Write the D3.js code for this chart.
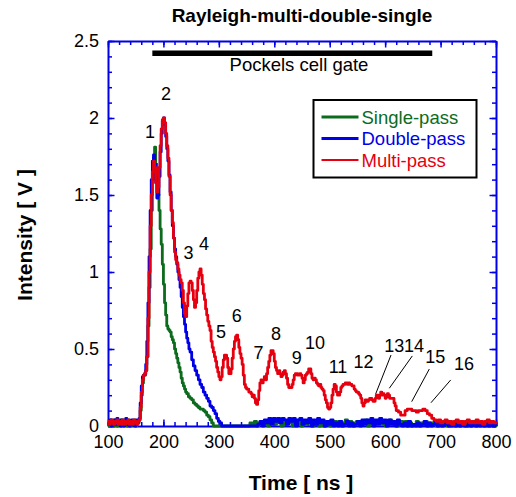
<!DOCTYPE html>
<html>
<head>
<meta charset="utf-8">
<script src="https://cdn.jsdelivr.net/npm/d3@7"></script>
<style>
  body { margin: 0; background: #fff; }
  text { font-family: Arial, "Liberation Sans", sans-serif; }
</style>
</head>
<body>
<div id="chart"></div>
<script>
// ---- data ----
const timeTicks = [100, 200, 300, 400, 500, 600, 700, 800];
const intensityTicks = [0, 0.5, 1, 1.5, 2, 2.5];

const seriesNames = ["Single-pass", "Double-pass", "Multi-pass"];

// [time ns, intensity V]
const singlePass = [
  [100,.02],[102,0],[104,.04],[106,.01],[108,.03],[110,0],[112,.04],[114,.02],[116,0],[118,.03],
  [120,.01],[122,.04],[124,0],[126,.02],[128,.04],[130,.01],[132,.03],[134,0],[136,.04],[138,.02],
  [140,0],[142,.03],[144,.01],[146,.04],[148,.02],[150,0],[152,.03],[154,.02],[156,.04],
  [158,.1],[160,.2],[162,.28],[164,.33],[166,.33],[168,.36],[170,.45],[172,.65],[174,.9],[176,1.15],
  [178,1.4],[180,1.6],[182,1.74],[184,1.81],[186,1.7],[188,1.6],[190,1.5],[192,1.4],[194,1.28],
  [196,1.18],[198,1.05],[200,.92],[202,.8],[204,.72],[206,.65],[208,.63],[210,.62],[212,.61],
  [214,.58],[216,.56],[218,.54],[220,.5],[222,.47],[224,.44],[226,.41],[228,.38],[230,.35],
  [232,.31],[234,.28],[236,.26],[238,.24],[240,.22],[242,.21],[245,.19],[248,.18],[251,.17],
  [254,.15],[257,.14],[260,.13],[263,.12],[266,.11],[269,.11],[272,.1],[275,.09],[278,.07],
  [281,.06],[284,.04],[287,.02],[290,0],[354,0],
  [356,.02],[360,.01],[364,.03],[368,0],[372,.02],[376,.03],[380,.01],[384,.03],[388,0],[392,.02],
  [396,.03],[400,.01],[404,.03],[408,.02],[412,0],[416,.03],[420,.01],[424,.03],[428,.02],[432,0],
  [436,.03],[440,.01],[444,.04],[448,0],[452,.03],[456,.01],[460,.03],[464,.02],[468,0],[472,.03],
  [476,.01],[480,0],[484,.02],[488,0],[492,.01],[496,.03],[500,0],[504,.02],[508,.03],[512,.01],
  [516,.03],[520,0],[524,.02],[528,.04],[532,.01],[536,.03],[540,0],[544,.02],[548,.03],[552,.01],
  [556,.03],[560,.02],[564,.04],[568,0],[572,.03],[576,.01],[580,.03],[584,.02],[588,.04],[592,.01],
  [596,.03],[600,0],[604,.02],[608,.04],[612,.01],[616,.03],[620,0],[624,.02],[628,.03],[632,.01],
  [636,.03],[640,0],[644,.02],[648,0],[652,.01],[656,.03],[660,0],[664,.02],[668,.01],[672,.03],
  [676,0],[680,.02],[684,.01],[688,.03],[692,0],[696,.02],[700,0],[704,.01],[708,.03],[712,0],
  [716,.02],[720,.01],[724,0],[728,.02],[732,0],[736,.03],[740,.01],[744,0],[748,.02],[752,0],
  [756,.01],[760,.03],[764,0],[768,.02],[772,.01],[776,0],[780,.02],[784,0],[788,.03],[792,.01],
  [796,0],[800,.02]
];

const doublePass = [
  [100,.03],[102,.01],[104,.04],[106,0],[108,.02],[110,.04],[112,.01],[114,.03],[116,.05],[118,.01],
  [120,.03],[122,0],[124,.04],[126,.02],[128,0],[130,.03],[132,.05],[134,.01],[136,.03],[138,0],
  [140,.02],[142,.04],[144,.01],[146,.03],[148,0],[150,.04],[152,.02],[154,.03],[156,.05],
  [158,.15],[160,.26],[162,.32],[164,.33],[166,.34],[168,.4],[170,.55],[172,.8],[174,1.1],[176,1.4],
  [178,1.6],[180,1.72],[182,1.76],[184,1.7],[186,1.58],[188,1.48],[190,1.5],[192,1.62],[194,1.78],
  [196,1.9],[198,1.98],[200,2.0],[202,1.96],[204,1.88],[206,1.8],[208,1.72],[210,1.63],[212,1.52],
  [214,1.4],[216,1.3],[218,1.22],[220,1.15],[222,1.1],[224,1.05],[226,1.0],[228,.95],[230,.9],
  [232,.84],[234,.77],[236,.71],[238,.66],[240,.61],[242,.57],[244,.54],[246,.5],[248,.48],
  [251,.43],[254,.39],[257,.36],[260,.33],[263,.3],[266,.27],[269,.25],[272,.22],[275,.2],
  [278,.18],[281,.16],[284,.13],[287,.12],[290,.1],[293,.08],[296,.05],[299,.03],[302,.02],[305,0],
  [366,0],[370,.01],[374,.03],[378,0],[382,.04],[386,.02],[390,.05],[394,.01],[398,.05],[402,.03],
  [406,.05],[410,.02],[414,.05],[418,.04],[422,.01],[426,.05],[430,.03],[434,.05],[438,0],[442,.04],
  [446,.05],[450,.01],[454,.04],[458,.02],[462,.05],[466,0],[470,.04],[474,.01],[478,.05],[482,.02],
  [486,.04],[490,0],[494,.03],[498,.01],[502,.04],[506,0],[510,.02],[514,0],[518,.03],[522,0],
  [526,.01],[530,.03],[534,0],[538,.02],[542,0],[546,.01],[550,.03],[554,0],[558,.04],[562,.01],
  [566,.04],[570,.02],[574,.05],[578,0],[582,.04],[586,.01],[590,.05],[594,.02],[598,.04],[602,0],
  [606,.04],[610,.01],[614,.03],[618,0],[622,.04],[626,.01],[630,0],[634,.02],[638,0],[642,.03],
  [646,0],[650,.01],[654,0],[658,.02],[662,0],[666,.01],[670,.03],[674,0],[678,.02],[682,0],
  [686,.01],[690,.03],[694,0],[698,.02],[702,0],[706,.01],[710,.03],[714,0],[718,0],[722,.02],
  [726,0],[730,.01],[734,0],[738,.02],[742,0],[746,0],[750,.02],[754,0],[758,.01],[762,0],
  [766,.02],[770,0],[774,.01],[778,0],[782,.02],[786,0],[790,.01],[794,0],[798,.02],[800,0]
];

const multiPass = [
  [100,.03],[102,.01],[104,.02],[106,.04],[108,.02],[110,.01],[112,.03],[114,.02],[116,.04],[118,.01],
  [120,.02],[122,.03],[124,.01],[126,.04],[128,.02],[130,.01],[132,.03],[134,.02],[136,.04],[138,.01],
  [140,.03],[142,.02],[144,.01],[146,.04],[148,.02],[150,.03],[152,.01],[154,.03],[156,.04],
  [158,.12],[160,.22],[162,.3],[164,.33],[166,.34],[168,.36],[170,.45],[172,.7],[174,1.0],[176,1.3],
  [178,1.5],[180,1.65],[182,1.72],[184,1.68],[186,1.58],[188,1.52],[190,1.55],[192,1.68],[194,1.82],
  [196,1.93],[198,1.99],[200,2.0],[202,1.97],[204,1.9],[206,1.82],[208,1.74],[210,1.62],[212,1.5],
  [214,1.4],[216,1.32],[218,1.22],[220,1.13],[222,1.08],[224,1.06],[226,1.02],[228,.98],[230,.95],
  [232,.93],[234,.88],[236,.8],[238,.73],[240,.71],[242,.78],[244,.86],[246,.93],[248,.94],[250,.93],
  [252,.88],[254,.82],[256,.77],[258,.8],[260,.88],[262,.96],[264,1.0],[266,1.02],[268,.98],[270,.92],
  [272,.86],[274,.82],[276,.76],[278,.72],[280,.68],[282,.65],[284,.62],[286,.55],[288,.51],[290,.48],
  [292,.45],[294,.42],[296,.38],[298,.35],[300,.32],[302,.3],[304,.32],[306,.38],[308,.43],[310,.46],
  [312,.46],[314,.44],[316,.38],[318,.34],[320,.34],[322,.37],[324,.44],[326,.5],[328,.55],[330,.58],
  [332,.59],[334,.56],[336,.51],[338,.47],[340,.44],[342,.4],[344,.33],[346,.27],[348,.25],[350,.24],
  [352,.24],[354,.22],[356,.22],[358,.21],[360,.19],[362,.2],[364,.18],[366,.15],[368,.14],[370,.17],
  [372,.23],[374,.28],[376,.3],[378,.28],[380,.3],[382,.32],[384,.3],[386,.34],[388,.38],[390,.42],
  [392,.46],[394,.49],[396,.49],[398,.47],[400,.42],[402,.38],[404,.36],[406,.34],[408,.36],[410,.34],
  [412,.32],[414,.33],[416,.35],[418,.36],[420,.34],[422,.31],[424,.27],[426,.25],[428,.25],[430,.25],
  [432,.27],[434,.3],[436,.33],[438,.34],[440,.34],[442,.33],[444,.33],[446,.34],[448,.33],[450,.31],
  [452,.28],[454,.3],[456,.33],[458,.34],[460,.35],[462,.37],[464,.37],[466,.34],[468,.31],[470,.3],
  [472,.31],[474,.3],[476,.28],[478,.27],[480,.26],[482,.27],[484,.25],[486,.24],[488,.23],[490,.2],
  [492,.17],[494,.15],[496,.12],[498,.11],[500,.12],[502,.15],[504,.2],[506,.24],[508,.27],[510,.26],
  [512,.22],[514,.2],[516,.2],[518,.22],[520,.25],[522,.26],[524,.27],[526,.27],[528,.28],[530,.28],
  [532,.27],[534,.28],[536,.27],[538,.27],[540,.26],[542,.26],[544,.24],[546,.23],[548,.22],[550,.22],
  [552,.21],[554,.2],[556,.18],[558,.15],[560,.13],[562,.15],[564,.17],[566,.17],[568,.16],[570,.17],
  [572,.18],[574,.18],[576,.17],[578,.16],[580,.16],[582,.18],[584,.2],[586,.2],[588,.18],[590,.2],
  [592,.22],[594,.2],[596,.21],[598,.2],[600,.18],[602,.19],[604,.21],[606,.2],[608,.18],[612,.18],
  [616,.15],[618,.13],[620,.1],[624,.09],[628,.07],[632,.07],[636,.1],[640,.11],[644,.11],[648,.1],
  [652,.1],[656,.09],[660,.1],[664,.1],[668,.11],[670,.11],[672,.1],[676,.08],[680,.07],[684,.05],
  [688,.04],[692,.03],[696,.04],[700,.02],[704,.03],[708,.04],[712,.02],[716,.03],[720,.01],[724,.03],
  [728,.04],[732,.02],[736,.03],[740,.01],[744,.03],[748,.04],[752,.02],[756,.03],[760,.02],[764,.04],
  [768,.02],[772,.03],[776,.01],[780,.03],[784,.04],[788,.02],[792,.03],[796,.02],[800,.03]
];

// peak numbers: label, time, intensity (label anchor)
const peakLabels = [
  ["1",176,1.87],["2",204.6,2.12],["3",245.2,1.084],["4",273.2,1.143],["5",303.9,.573],
  ["6",332.2,.677],["7",371.5,.433],["8",403.1,.558],["9",440.4,.403],["10",473.4,.5],
  ["11",514.9,.344],["12",560.9,.377],["13",616.3,.482],["14",652,.482],["15",690.5,.409],
  ["16",742.3,.364]
];
// leader lines: [t1, v1, t2, v2]
const leaderLines = [
  [610.6,.461,582.9,.208],[649,.455,607.5,.245],[679.7,.37,647.9,.158],[718.3,.299,682.7,.151]
];

const gateStart = 180, gateEnd = 685, gateLevel = 2.42;

// ---- layout ----
const width = 516, height = 497;
const colors = ["#0c6b1c", "#0000e6", "#e6000f"];
const axisBlue = "#0000e6";

const svg = d3.select("#chart").append("svg")
  .attr("width", width)
  .attr("height", height);

const x = d3.scaleLinear().domain([100, 800]).range([108, 496]);
const y = d3.scaleLinear().domain([0, 2.5]).range([426, 41]);

const minorX = d3.range(100, 801, 20);
const minorY = d3.range(0, 2.51, 0.1);

function drawAxis(axisFn, scale, translate, major, minor, labels) {
  const g = svg.append("g").attr("transform", translate);
  g.call(axisFn(scale).tickValues(minor).tickSizeInner(-4).tickSizeOuter(0).tickFormat(""));
  g.select(".domain").remove();
  g.selectAll(".tick line").attr("stroke", axisBlue).attr("stroke-width", 1.5);
  const gm = svg.append("g").attr("transform", translate);
  gm.call(axisFn(scale).tickValues(major).tickSizeInner(-6.5).tickSizeOuter(0)
    .tickPadding(labels ? 9 : 0)
    .tickFormat(labels ? d3.format("~g") : ""));
  gm.select(".domain").attr("stroke", axisBlue).attr("stroke-width", 2);
  gm.selectAll(".tick line").attr("stroke", axisBlue).attr("stroke-width", 1.5);
  gm.selectAll(".tick text").attr("fill", "#000").style("font-size", "18px")
    .style("font-family", "Arial, 'Liberation Sans', sans-serif");
  return gm;
}

drawAxis(d3.axisBottom, x, "translate(0,426)", timeTicks, minorX, true);
drawAxis(d3.axisTop, x, "translate(0,41)", timeTicks, minorX, false);
drawAxis(d3.axisLeft, y, "translate(108,0)", intensityTicks, minorY, true);
drawAxis(d3.axisRight, y, "translate(496,0)", intensityTicks, minorY, false);

// ---- series ----
const line = d3.line()
  .x(d => x(d[0]))
  .y(d => y(d[1]))
  .curve(d3.curveStepAfter);

[singlePass, doublePass, multiPass].forEach((s, i) => {
  svg.append("path")
    .datum(s)
    .attr("fill", "none")
    .attr("stroke", colors[i])
    .attr("stroke-width", 2.8)
    .attr("stroke-linejoin", "round")
    .attr("d", line);
});

// ---- Pockels cell gate ----
svg.append("line")
  .attr("x1", x(gateStart)).attr("x2", x(gateEnd))
  .attr("y1", y(gateLevel)).attr("y2", y(gateLevel))
  .attr("stroke", "#000").attr("stroke-width", 5.5);

svg.append("text")
  .attr("x", x(444.6)).attr("y", y(2.305))
  .attr("text-anchor", "middle")
  .style("font-size", "18.5px")
  .text("Pockels cell gate");

// ---- peak labels ----
svg.append("g").selectAll("text")
  .data(peakLabels)
  .join("text")
    .attr("x", d => x(d[1]))
    .attr("y", d => y(d[2]))
    .attr("text-anchor", "middle")
    .style("font-size", "18px")
    .text(d => d[0]);

svg.append("g").selectAll("line")
  .data(leaderLines)
  .join("line")
    .attr("x1", d => x(d[0])).attr("y1", d => y(d[1]))
    .attr("x2", d => x(d[2])).attr("y2", d => y(d[3]))
    .attr("stroke", "#000").attr("stroke-width", 1);

// ---- legend ----
const legend = svg.append("g").attr("transform", "translate(313.5,100)");
legend.append("rect")
  .attr("width", 163).attr("height", 77.5)
  .attr("fill", "#fff").attr("stroke", "#000").attr("stroke-width", 2);
seriesNames.forEach((name, i) => {
  const ly = 17 + i * 21.5;
  legend.append("line")
    .attr("x1", 8).attr("x2", 45).attr("y1", ly).attr("y2", ly)
    .attr("stroke", colors[i]).attr("stroke-width", i === 2 ? 2 : 3);
  legend.append("text")
    .attr("x", 48).attr("y", ly + 6.5)
    .attr("fill", colors[i])
    .style("font-size", "18.5px")
    .text(name);
});

// ---- titles ----
svg.append("text")
  .attr("x", 302).attr("y", 21.5)
  .attr("text-anchor", "middle")
  .style("font-size", "19px").style("font-weight", "bold")
  .text("Rayleigh-multi-double-single");

svg.append("text")
  .attr("x", 301).attr("y", 490)
  .attr("text-anchor", "middle")
  .style("font-size", "21px").style("font-weight", "bold")
  .text("Time [ ns ]");

svg.append("text")
  .attr("transform", "translate(31.5,235) rotate(-90)")
  .attr("text-anchor", "middle")
  .style("font-size", "21px").style("font-weight", "bold")
  .text("Intensity [ V ]");
</script>
</body>
</html>
